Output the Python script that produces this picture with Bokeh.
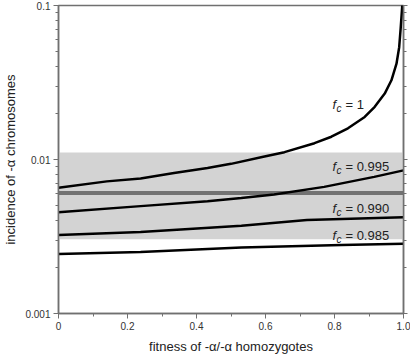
from bokeh.plotting import figure
from bokeh.models import FixedTicker, LogAxis, Label, Range1d, BoxAnnotation, Span
from bokeh.embed import file_html
from bokeh.resources import INLINE

# ---- data ----
x_fc1 = [0.0, 0.14, 0.238, 0.335, 0.432, 0.5, 0.597, 0.655, 0.742, 0.791, 0.839, 0.8875,
         0.9166, 0.9456, 0.965, 0.9797, 0.9875, 0.992, 0.996, 0.998]
y_fc1 = [0.00656, 0.00721, 0.00753, 0.00817, 0.00881, 0.00937, 0.01045, 0.01116, 0.01276,
         0.01406, 0.01595, 0.0189, 0.0220, 0.0268, 0.0327, 0.0419, 0.0536, 0.0721, 0.097, 0.12]

x_fc995 = [0.0, 0.238, 0.432, 0.53, 0.625, 0.77, 0.915, 1.0]
y_fc995 = [0.00455, 0.00498, 0.00536, 0.00563, 0.00592, 0.00664, 0.00771, 0.0085]

x_fc990 = [0.0, 0.238, 0.53, 0.72, 1.0]
y_fc990 = [0.00323, 0.00338, 0.00372, 0.00404, 0.00422]

x_fc985 = [0.0, 0.238, 0.53, 0.82, 1.0]
y_fc985 = [0.00243, 0.00251, 0.00268, 0.00279, 0.00284]

band_low, band_high = 0.00303, 0.0111
dotted_level = 0.00607

labels = ["1", "0.995", "0.990", "0.985"]
label_x = [0.794, 0.794, 0.794, 0.794]
label_y = [0.0227, 0.0090, 0.00478, 0.00322]

y_major = [0.001, 0.01, 0.1]
y_major_text = {0.001: "0.001", 0.01: "0.01", 0.1: "0.1"}
x_major = [0, 0.2, 0.4, 0.6, 0.8, 1.0]
x_major_text = {0: "0", 0.2: "0.2", 0.4: "0.4", 0.6: "0.6", 0.8: "0.8", 1.0: "1.0"}

minor_y = [k * 10.0 ** e for e in (-3, -2) for k in range(2, 10)]
minor_x = [i / 10 for i in range(11)]

FONT = "Liberation Sans"
AX = "#707070"

p = figure(width=410, height=356, y_axis_type="log", output_backend="svg",
           toolbar_location=None, x_range=Range1d(0, 1), y_range=Range1d(0.001, 0.1),
           min_border_left=58, min_border_right=7, min_border_top=5, min_border_bottom=42)
p.grid.visible = False
p.outline_line_color = AX
p.outline_line_width = 1.5
p.background_fill_color = "white"
p.border_fill_color = "white"

p.add_layout(BoxAnnotation(bottom=band_low, top=band_high, fill_color="#d3d3d3",
                           fill_alpha=1.0, line_color=None, level="underlay"))

p.add_layout(Span(location=dotted_level, dimension="width", line_color="#111111",
                  line_width=4, line_dash="1 1", level="underlay"))

for xs, ys in [(x_fc1, y_fc1), (x_fc995, y_fc995), (x_fc990, y_fc990), (x_fc985, y_fc985)]:
    p.line(xs, ys, line_color="black", line_width=2.5)

for t, lx, ly in zip(labels, label_x, label_y):
    p.add_layout(Label(x=lx, y=ly, text="f", text_font=FONT, text_font_style="italic",
                       text_font_size="13px", text_color="#222222", text_baseline="middle"))
    p.add_layout(Label(x=lx, y=ly, x_offset=4, y_offset=-4, text="c", text_font=FONT,
                       text_font_style="italic", text_font_size="10px", text_color="#222222",
                       text_baseline="middle"))
    p.add_layout(Label(x=lx, y=ly, x_offset=13, text="= " + t, text_font=FONT,
                       text_font_size="13px", text_color="#222222", text_baseline="middle"))

for ax in (p.xaxis[0], p.yaxis[0]):
    ax.axis_line_color = AX
    ax.axis_line_width = 1.5
    ax.major_tick_line_color = AX
    ax.minor_tick_line_color = AX
    ax.major_tick_out = 5
    ax.major_tick_in = 0
    ax.minor_tick_out = 3
    ax.minor_tick_in = 0
    ax.major_label_standoff = 3
    ax.major_label_text_font = FONT
    ax.major_label_text_font_size = "10px"
    ax.major_label_text_color = "#333333"
    ax.axis_label_text_font = FONT
    ax.axis_label_text_font_size = "13px"
    ax.axis_label_text_font_style = "normal"
    ax.axis_label_text_color = "#222222"

p.xaxis.ticker = FixedTicker(ticks=x_major, minor_ticks=minor_x)
p.xaxis.major_label_overrides = x_major_text
p.xaxis.axis_label = "fitness of -α/-α homozygotes"
p.xaxis.axis_label_standoff = 6

p.yaxis.ticker = FixedTicker(ticks=y_major, minor_ticks=minor_y)
p.yaxis.major_label_overrides = y_major_text
p.yaxis.axis_label = "incidence of -α chromosomes"
p.yaxis.axis_label_standoff = 4

r = LogAxis(ticker=FixedTicker(ticks=y_major, minor_ticks=minor_y),
            major_label_text_font_size="1px", major_label_text_alpha=0.0,
            major_label_standoff=0,
            axis_line_color=AX, axis_line_width=1.5,
            major_tick_line_color=AX, minor_tick_line_color=AX,
            major_tick_out=4, major_tick_in=0, minor_tick_out=3, minor_tick_in=0)
p.add_layout(r, "right")

open("out.html", "w").write(file_html(p, INLINE))
